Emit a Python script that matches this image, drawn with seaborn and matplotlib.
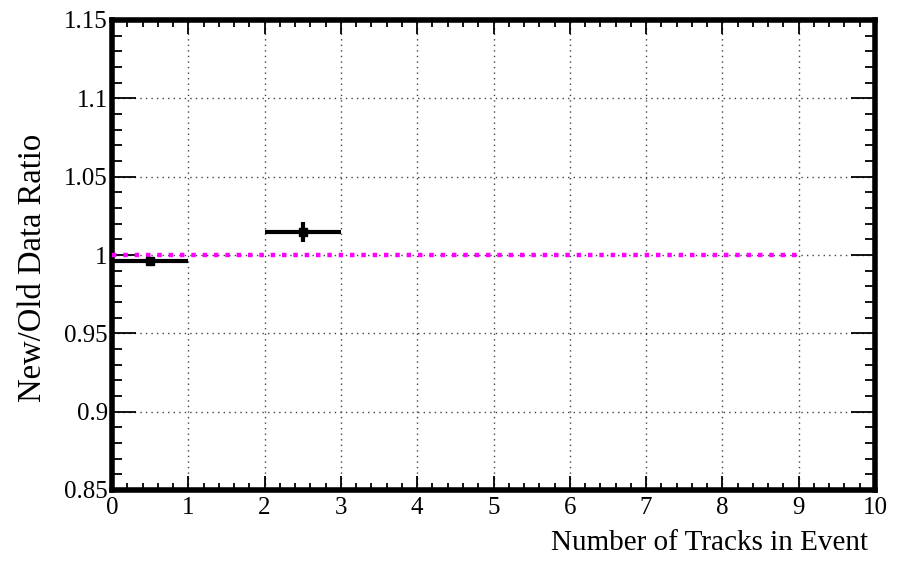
import matplotlib
matplotlib.use("Agg")
import matplotlib.pyplot as plt
from matplotlib.ticker import MultipleLocator
import numpy as np
import pandas as pd
import seaborn as sns

# Ratio per track-multiplicity bin
bin_low = [0, 2]
bin_high = [1, 3]
ratio = [0.9964, 1.0145]
ratio_err = [0.0008, 0.0064]

# Reference line at unity
ref_x = [0, 9]
ref_y = [1.0, 1.0]

x_ticks = [0, 1, 2, 3, 4, 5, 6, 7, 8, 9, 10]
y_ticks = [0.85, 0.9, 0.95, 1.0, 1.05, 1.1, 1.15]
y_tick_labels = ["0.85", "0.9", "0.95", "1", "1.05", "1.1", "1.15"]

sns.set_theme(style="ticks")
plt.rcParams["font.family"] = ["Liberation Serif", "DejaVu Serif"]

fig = plt.figure(figsize=(9.02, 5.62), dpi=100)
ax = fig.add_axes([112 / 902, 72 / 562, 763 / 902, 470 / 562])

bins = pd.DataFrame({"lo": bin_low, "hi": bin_high, "ratio": ratio, "err": ratio_err})
bins["center"] = (bins["lo"] + bins["hi"]) / 2
bins["half"] = (bins["hi"] - bins["lo"]) / 2

ax.grid(True, which="major", color="#444444", linestyle=(0, (1, 3)), linewidth=1.0)
ax.set_axisbelow(True)

ref = pd.DataFrame({"x": ref_x, "y": ref_y})
sns.lineplot(data=ref, x="x", y="y", ax=ax, color="#ff00ff", linewidth=3.2,
             dashes=False, zorder=3)
ax.lines[-1].set_dashes((1.0, 1.55))
ax.lines[-1].set_dash_capstyle("butt")

ax.errorbar(bins["center"], bins["ratio"], xerr=bins["half"], yerr=bins["err"],
            fmt="s", color="black", markersize=5.5, elinewidth=3.0, capsize=0,
            zorder=4)

ax.set_xlim(0, 10)
ax.set_ylim(0.85, 1.15)
ax.set_xticks(x_ticks)
ax.set_xticklabels([str(t) for t in x_ticks])
ax.set_yticks(y_ticks)
ax.set_yticklabels(y_tick_labels)
ax.xaxis.set_minor_locator(MultipleLocator(0.2))
ax.yaxis.set_minor_locator(MultipleLocator(0.01))

ax.tick_params(which="both", direction="in", top=True, right=True,
               labelsize=18, colors="black", width=1.3)
ax.tick_params(axis="x", which="major", length=10, pad=5)
ax.tick_params(axis="x", which="minor", length=5)
ax.tick_params(axis="y", which="major", length=17, pad=3)
ax.tick_params(axis="y", which="minor", length=7.5)

for side in ["left", "right", "top", "bottom"]:
    ax.spines[side].set_visible(True)
    ax.spines[side].set_linewidth(4.0)
    ax.spines[side].set_color("black")

ax.set_xlabel("")
ax.set_ylabel("")
fig.text(868 / 902, 1 - 543 / 562, "Number of Tracks in Event", ha="right",
         va="center", fontsize=21, color="black")
fig.text(33 / 902, 1 - 268 / 562, "New/Old Data Ratio", ha="center",
         va="center", rotation=90, fontsize=23.5, color="black")

fig.savefig("out.png", dpi=100)
